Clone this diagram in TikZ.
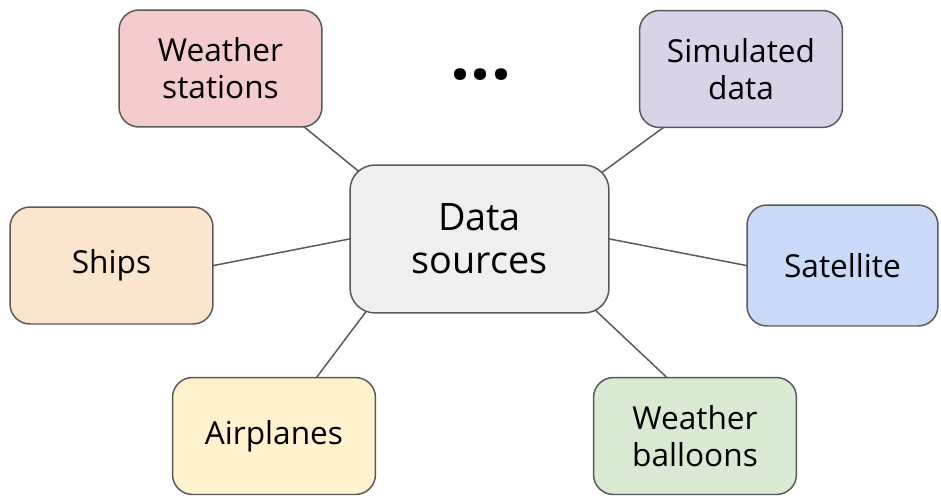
\documentclass[tikz,border=0pt]{standalone}
\usepackage{fontspec}
\setmainfont{Open Sans}
\usetikzlibrary{backgrounds}
\definecolor{boxline}{HTML}{595959}
\definecolor{stationfill}{HTML}{F4CCCC}
\definecolor{simfill}{HTML}{D9D2E9}
\definecolor{shipfill}{HTML}{FCE5CD}
\definecolor{satfill}{HTML}{C9DAF8}
\definecolor{planefill}{HTML}{FFF2CC}
\definecolor{balloonfill}{HTML}{D9EAD3}
\definecolor{hubfill}{HTML}{EFEFEF}
\begin{document}
\begin{tikzpicture}[x=0.02cm,y=-0.02cm,
    source/.style={draw=boxline,line width=0.85pt,rounded corners=0.4cm,
      minimum width=4.06cm,minimum height=2.34cm,align=center,inner sep=0pt,
      font=\fontsize{18}{21}\selectfont},
    hub/.style={source,rounded corners=0.5cm,minimum width=5.18cm,
      minimum height=2.96cm,font=\fontsize{21.5}{24.5}\selectfont},
    link/.style={draw=boxline,line width=0.85pt,shorten <=-8pt,shorten >=-8pt}]
  \useasboundingbox (0,0) rectangle (941,495);
  % hub and the sources round it
  \node[hub,fill=hubfill] (data) at (479.5,239) {\raisebox{-2pt}{Data}\\\raisebox{-2pt}{sources}};
  \node[source,fill=stationfill] (stations) at (220.5,68.5) {Weather\\stations};
  \node[source,fill=simfill] (sim) at (741,69) {Simulated\\data};
  \node[source,fill=shipfill] (ships) at (111.5,265.5) {Ships};
  \node[source,fill=satfill,minimum width=3.82cm,minimum height=2.42cm] (sat) at (842.5,265.5) {Satellite};
  \node[source,fill=planefill] (planes) at (274,436) {Airplanes};
  \node[source,fill=balloonfill] (balloons) at (695,436) {Weather\\balloons};
  \node[font=\fontsize{40}{40}\selectfont\bfseries] (more) at (481,75) {...};
  \begin{scope}[on background layer]
    \draw[link] (stations.-35.5) to (data.150.8);
    \draw[link] (sim.-143.7) to (data.29.2);
    \draw[link] (ships.east) to (data.west);
    \draw[link] (sat.west) to (data.east);
    \draw[link] (planes.54.3) to (data.-147);
    \draw[link] (balloons.116.6) to (data.-32.4);
  \end{scope}
\end{tikzpicture}
\end{document}
